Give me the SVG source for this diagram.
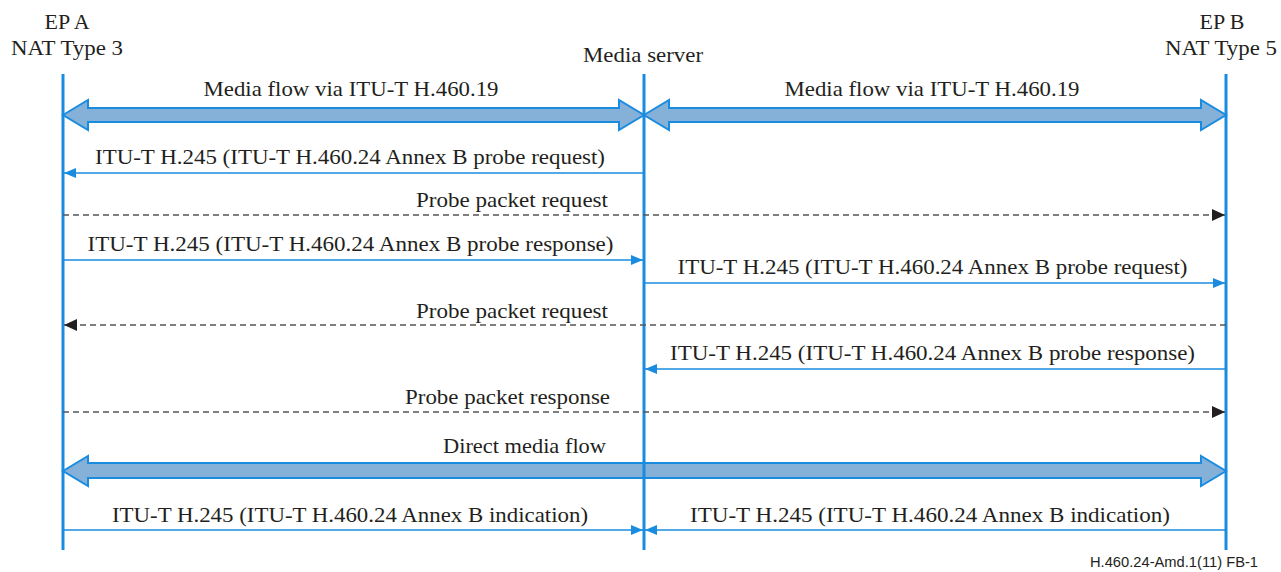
<svg xmlns="http://www.w3.org/2000/svg" width="1281" height="572" viewBox="0 0 1281 572">
<defs>
<marker id="ab" markerWidth="12" markerHeight="10" refX="12" refY="5" orient="auto" markerUnits="userSpaceOnUse"><path d="M0,0 L12,5 L0,10 Z" fill="#1a8ce0"/></marker>
<marker id="ak" markerWidth="13" markerHeight="12" refX="13" refY="6" orient="auto" markerUnits="userSpaceOnUse"><path d="M0,0 L13,6 L0,12 Z" fill="#231f20"/></marker>
</defs>
<rect width="1281" height="572" fill="#fff"/>
<g style="font-family:'Liberation Serif',serif;font-size:22px" fill="#231f20">
<g id="epA">
<text x="67" y="29" text-anchor="middle">EP A</text>
<text x="67" y="55" text-anchor="middle" textLength="112" lengthAdjust="spacingAndGlyphs">NAT Type 3</text>
<line x1="63" y1="74" x2="63" y2="550" stroke="#1a8ce0" stroke-width="3"/>
</g>
<g id="mediaServer">
<text x="643" y="62" text-anchor="middle" textLength="120" lengthAdjust="spacingAndGlyphs">Media server</text>
<line x1="644" y1="74" x2="644" y2="550" stroke="#1a8ce0" stroke-width="3"/>
</g>
<g id="epB">
<text x="1222" y="29" text-anchor="middle">EP B</text>
<text x="1221" y="55" text-anchor="middle" textLength="112" lengthAdjust="spacingAndGlyphs">NAT Type 5</text>
<line x1="1226" y1="74" x2="1226" y2="550" stroke="#1a8ce0" stroke-width="3"/>
</g>
<g id="connectors">
<g fill="#85b0d8" stroke="#1a8ce0" stroke-width="2">
<path d="M63,115 L88,100 L88,108 L619,108 L619,100 L644,115 L619,130 L619,122 L88,122 L88,130 Z"/>
<path d="M644,115 L669,100 L669,108 L1201,108 L1201,100 L1226,115 L1201,130 L1201,122 L669,122 L669,130 Z"/>
<path d="M63,471 L88,456 L88,463 L1201,463 L1201,456 L1226,471 L1201,486 L1201,478 L88,478 L88,486 Z"/>
</g>
<text x="351" y="96" text-anchor="middle" textLength="295" lengthAdjust="spacingAndGlyphs">Media flow via ITU-T H.460.19</text>
<text x="932" y="96" text-anchor="middle" textLength="295" lengthAdjust="spacingAndGlyphs">Media flow via ITU-T H.460.19</text>
<text x="524.5" y="453" text-anchor="middle" textLength="163" lengthAdjust="spacingAndGlyphs">Direct media flow</text>

<g stroke="#1a8ce0" stroke-width="1.3" fill="none" marker-end="url(#ab)">
<line x1="644" y1="173" x2="64" y2="173"/>
<line x1="63" y1="260" x2="643" y2="260"/>
<line x1="644" y1="283" x2="1225" y2="283"/>
<line x1="1226" y1="369" x2="645" y2="369"/>
<line x1="63" y1="530" x2="643" y2="530"/>
<line x1="1226" y1="530" x2="645" y2="530"/>
</g>
<g stroke="#555" stroke-width="1.3" stroke-dasharray="6 4" fill="none" marker-end="url(#ak)">
<line x1="63" y1="215" x2="1225" y2="215"/>
<line x1="1226" y1="325" x2="64" y2="325"/>
<line x1="63" y1="412" x2="1225" y2="412"/>
</g>
<text x="350" y="164" text-anchor="middle" textLength="510" lengthAdjust="spacingAndGlyphs">ITU-T H.245 (ITU-T H.460.24 Annex B probe request)</text>
<text x="608" y="207" text-anchor="end" textLength="192" lengthAdjust="spacingAndGlyphs">Probe packet request</text>
<text x="350.5" y="251" text-anchor="middle" textLength="526" lengthAdjust="spacingAndGlyphs">ITU-T H.245 (ITU-T H.460.24 Annex B probe response)</text>
<text x="932.5" y="274" text-anchor="middle" textLength="510" lengthAdjust="spacingAndGlyphs">ITU-T H.245 (ITU-T H.460.24 Annex B probe request)</text>
<text x="608" y="318" text-anchor="end" textLength="192" lengthAdjust="spacingAndGlyphs">Probe packet request</text>
<text x="932.5" y="360" text-anchor="middle" textLength="525" lengthAdjust="spacingAndGlyphs">ITU-T H.245 (ITU-T H.460.24 Annex B probe response)</text>
<text x="610" y="404" text-anchor="end" textLength="205" lengthAdjust="spacingAndGlyphs">Probe packet response</text>
<text x="350" y="522" text-anchor="middle" textLength="476" lengthAdjust="spacingAndGlyphs">ITU-T H.245 (ITU-T H.460.24 Annex B indication)</text>
<text x="930" y="522" text-anchor="middle" textLength="480" lengthAdjust="spacingAndGlyphs">ITU-T H.245 (ITU-T H.460.24 Annex B indication)</text>
</g>
<line x1="644" y1="463" x2="644" y2="478" stroke="#1a8ce0" stroke-width="3"/>
</g>
<text x="1258" y="567" text-anchor="end" style="font-family:'Liberation Sans',sans-serif;font-size:14px" fill="#231f20" textLength="168" lengthAdjust="spacingAndGlyphs">H.460.24-Amd.1(11) FB-1</text>
</svg>
